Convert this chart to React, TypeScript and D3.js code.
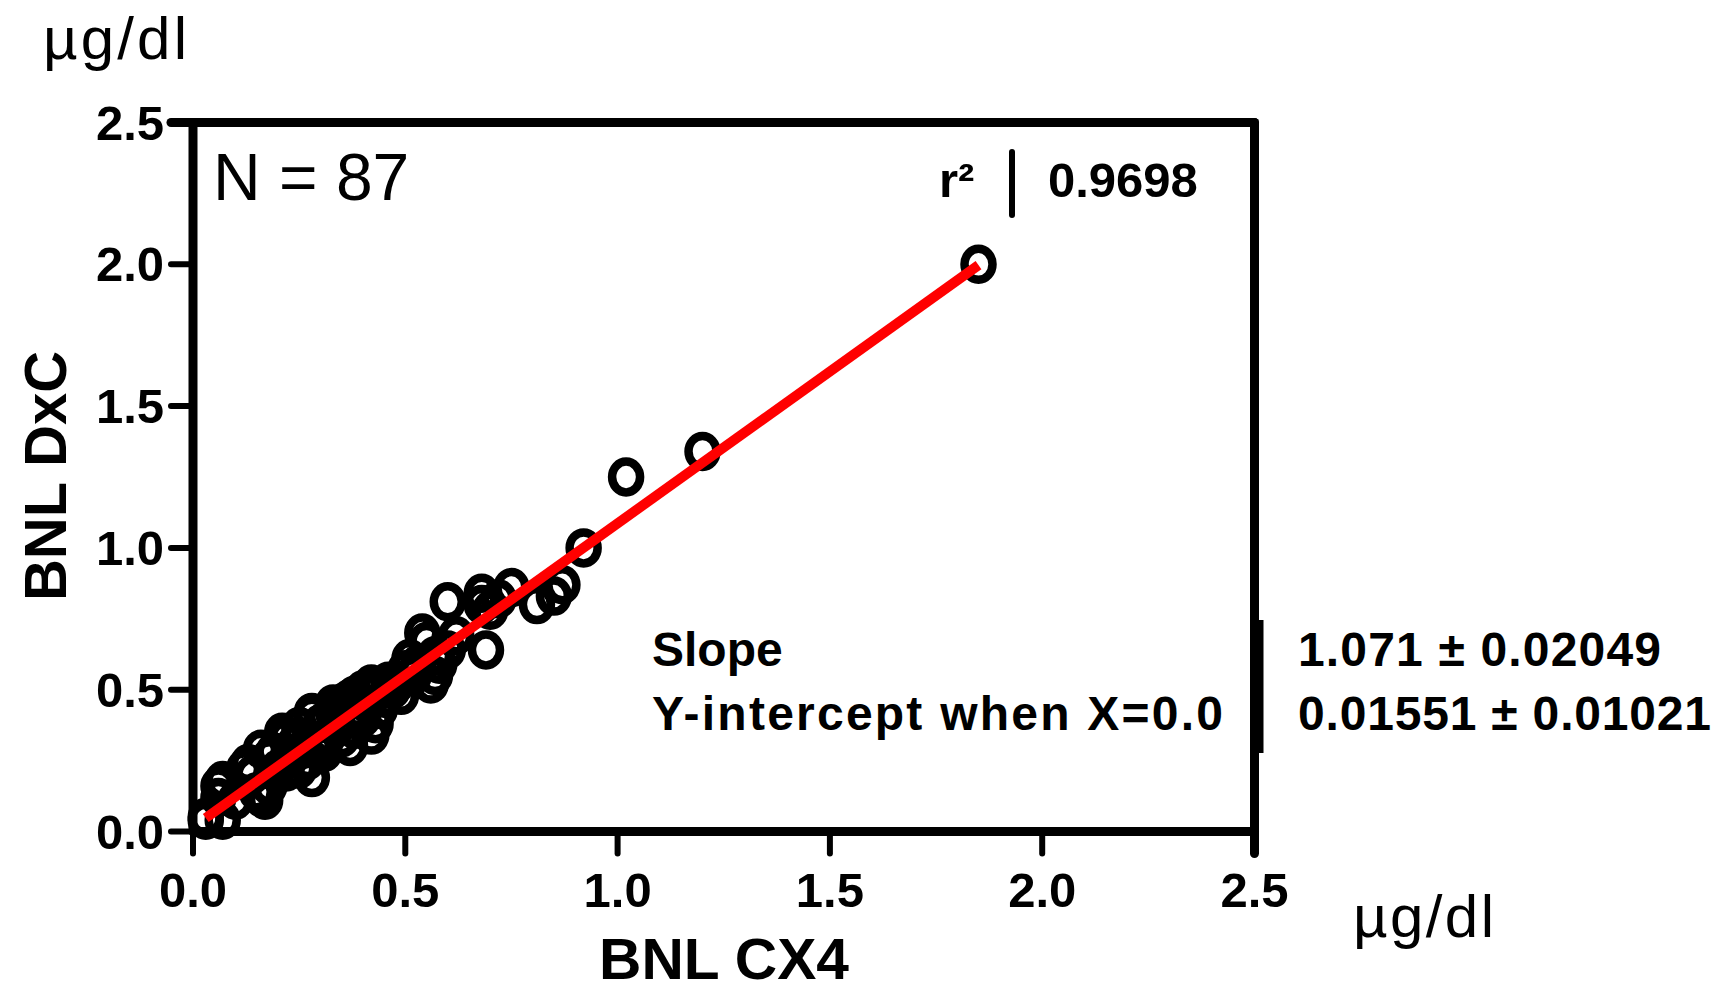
import React from "react";
import { scaleLinear, line, extent } from "d3";

// BNL CX4 (x) vs BNL DxC (y), µg/dl
const cx4 = [
  1.85, 1.2, 1.02, 0.92, 0.87, 0.85, 0.81, 0.75, 0.68, 0.7, 0.68, 0.72, 0.6, 0.69, 0.62, 0.54, 0.55,
  0.57, 0.6, 0.51, 0.53, 0.58, 0.56, 0.57, 0.5, 0.49, 0.47, 0.44, 0.42, 0.42, 0.46, 0.4, 0.38, 0.37,
  0.35, 0.36, 0.33, 0.33, 0.31, 0.28, 0.28, 0.25, 0.3, 0.34, 0.43, 0.44, 0.42, 0.4, 0.38, 0.37, 0.35,
  0.31, 0.29, 0.26, 0.24, 0.21, 0.22, 0.19, 0.16, 0.18, 0.2, 0.13, 0.12, 0.14, 0.18, 0.15, 0.17, 0.16,
  0.1, 0.07, 0.06, 0.06, 0.07, 0.03, 0.03, 0.28, 0.27, 0.23, 0.22, 0.25, 0.32, 0.3, 0.39, 0.41, 0.45,
  0.48, 0.52,
];
const dxc = [
  2.0, 1.34, 1.25, 1.0, 0.87, 0.83, 0.8, 0.86, 0.84, 0.78, 0.8, 0.82, 0.81, 0.64, 0.69, 0.7, 0.67,
  0.62, 0.64, 0.61, 0.59, 0.59, 0.52, 0.55, 0.57, 0.48, 0.5, 0.51, 0.5, 0.52, 0.53, 0.5, 0.48, 0.47,
  0.44, 0.46, 0.45, 0.42, 0.39, 0.42, 0.41, 0.37, 0.38, 0.37, 0.38, 0.43, 0.34, 0.4, 0.36, 0.3, 0.33,
  0.28, 0.32, 0.29, 0.31, 0.35, 0.33, 0.28, 0.29, 0.26, 0.22, 0.24, 0.22, 0.2, 0.16, 0.14, 0.11, 0.12,
  0.11, 0.18, 0.16, 0.12, 0.04, 0.05, 0.04, 0.19, 0.25, 0.26, 0.21, 0.22, 0.34, 0.3, 0.43, 0.45, 0.47,
  0.52, 0.55,
];
const ticks = [0, 0.5, 1.0, 1.5, 2.0, 2.5];
const slope = 1.071;
const intercept = 0.01551;
const r2 = "0.9698";
const statLabels = ["Slope", "Y-intercept when X=0.0"];
const statValues = ["1.071 ± 0.02049", "0.01551 ± 0.01021"];

const font = "'Liberation Sans', Arial, Helvetica, sans-serif";

export default function App() {
  const W = 1730;
  const H = 993;
  const x = scaleLinear().domain([0, 2.5]).range([193, 1254.5]);
  const y = scaleLinear().domain([0, 2.5]).range([831.5, 122.5]);

  const pts = cx4.map((v, i) => [v, dxc[i]]);
  const [xmin, xmax] = extent(cx4) as [number, number];
  const fit = line<number>()
    .x((d) => x(d))
    .y((d) => y(slope * d + intercept));

  const x0 = x(0);
  const y0 = y(0);
  const xTop = x(2.5);
  const yTop = y(2.5);

  return (
    <svg width={W} height={H} style={{ position: "absolute", left: 0, top: 0 }} fontFamily={font}>
      <rect width={W} height={H} fill="white" />

      {/* units */}
      <text x={43} y={59} fontSize={60} textLength={144} lengthAdjust="spacing">µg/dl</text>
      <text x={1353} y={937} fontSize={60} textLength={141} lengthAdjust="spacing">µg/dl</text>

      {/* data */}
      <g fill="none" stroke="black" strokeWidth={8.5}>
        {pts.map((d, i) => (
          <ellipse key={i} cx={x(d[0])} cy={y(d[1])} rx={14} ry={15.5} />
        ))}
      </g>

      {/* fit line */}
      <path d={fit([xmin, xmax]) || ""} stroke="#ff0000" strokeWidth={10} fill="none" />

      {/* frame */}
      <g stroke="black" strokeWidth={9} strokeLinecap="round">
        <line x1={x0} y1={yTop} x2={x0} y2={y0} />
        <line x1={x0} y1={y0} x2={xTop} y2={y0} />
        <line x1={171} y1={yTop} x2={xTop} y2={yTop} />
        <line x1={xTop} y1={yTop} x2={xTop} y2={y0 + 22} />
        <line x1={1259} y1={620} x2={1259} y2={753} strokeLinecap="butt" />
      </g>
      <g stroke="black" strokeWidth={6} strokeLinecap="round">
        {ticks.map((t) => (
          <line key={"yt" + t} x1={171} y1={y(t)} x2={x0} y2={y(t)} />
        ))}
        {ticks.map((t) => (
          <line key={"xt" + t} x1={x(t)} y1={y0} x2={x(t)} y2={y0 + 22} />
        ))}
      </g>

      {/* tick labels */}
      <g fontSize={49} fontWeight="bold">
        {ticks.map((t) => (
          <text key={"yl" + t} x={164} y={y(t)} dy="0.35em" textAnchor="end">
            {t.toFixed(1)}
          </text>
        ))}
        {ticks.map((t) => (
          <text key={"xl" + t} x={x(t)} y={y0 + 75} textAnchor="middle">
            {t.toFixed(1)}
          </text>
        ))}
      </g>

      {/* axis titles */}
      <text x={724} y={979} fontSize={58} fontWeight="bold" textAnchor="middle" textLength={250} lengthAdjust="spacingAndGlyphs">
        BNL CX4
      </text>
      <text
        transform="translate(66,476) rotate(-90)"
        fontSize={60}
        fontWeight="bold"
        textAnchor="middle"
        textLength={250}
        lengthAdjust="spacingAndGlyphs"
      >
        BNL DxC
      </text>

      {/* N */}
      <text x={213} y={200} fontSize={66}>N = 87</text>

      {/* r squared */}
      <text x={939} y={197} fontSize={49} fontWeight="bold">r²</text>
      <line x1={1012} y1={152} x2={1012} y2={215} stroke="black" strokeWidth={6} strokeLinecap="round" />
      <text x={1048} y={197} fontSize={49} fontWeight="bold">{r2}</text>

      {/* fit table */}
      <g fontSize={48} fontWeight="bold">
        <text x={652} y={666}>{statLabels[0]}</text>
        <text x={652} y={730} textLength={571} lengthAdjust="spacing">{statLabels[1]}</text>
        <text x={1298} y={666} textLength={363} lengthAdjust="spacing">{statValues[0]}</text>
        <text x={1298} y={730} textLength={413} lengthAdjust="spacing">{statValues[1]}</text>
      </g>
    </svg>
  );
}
